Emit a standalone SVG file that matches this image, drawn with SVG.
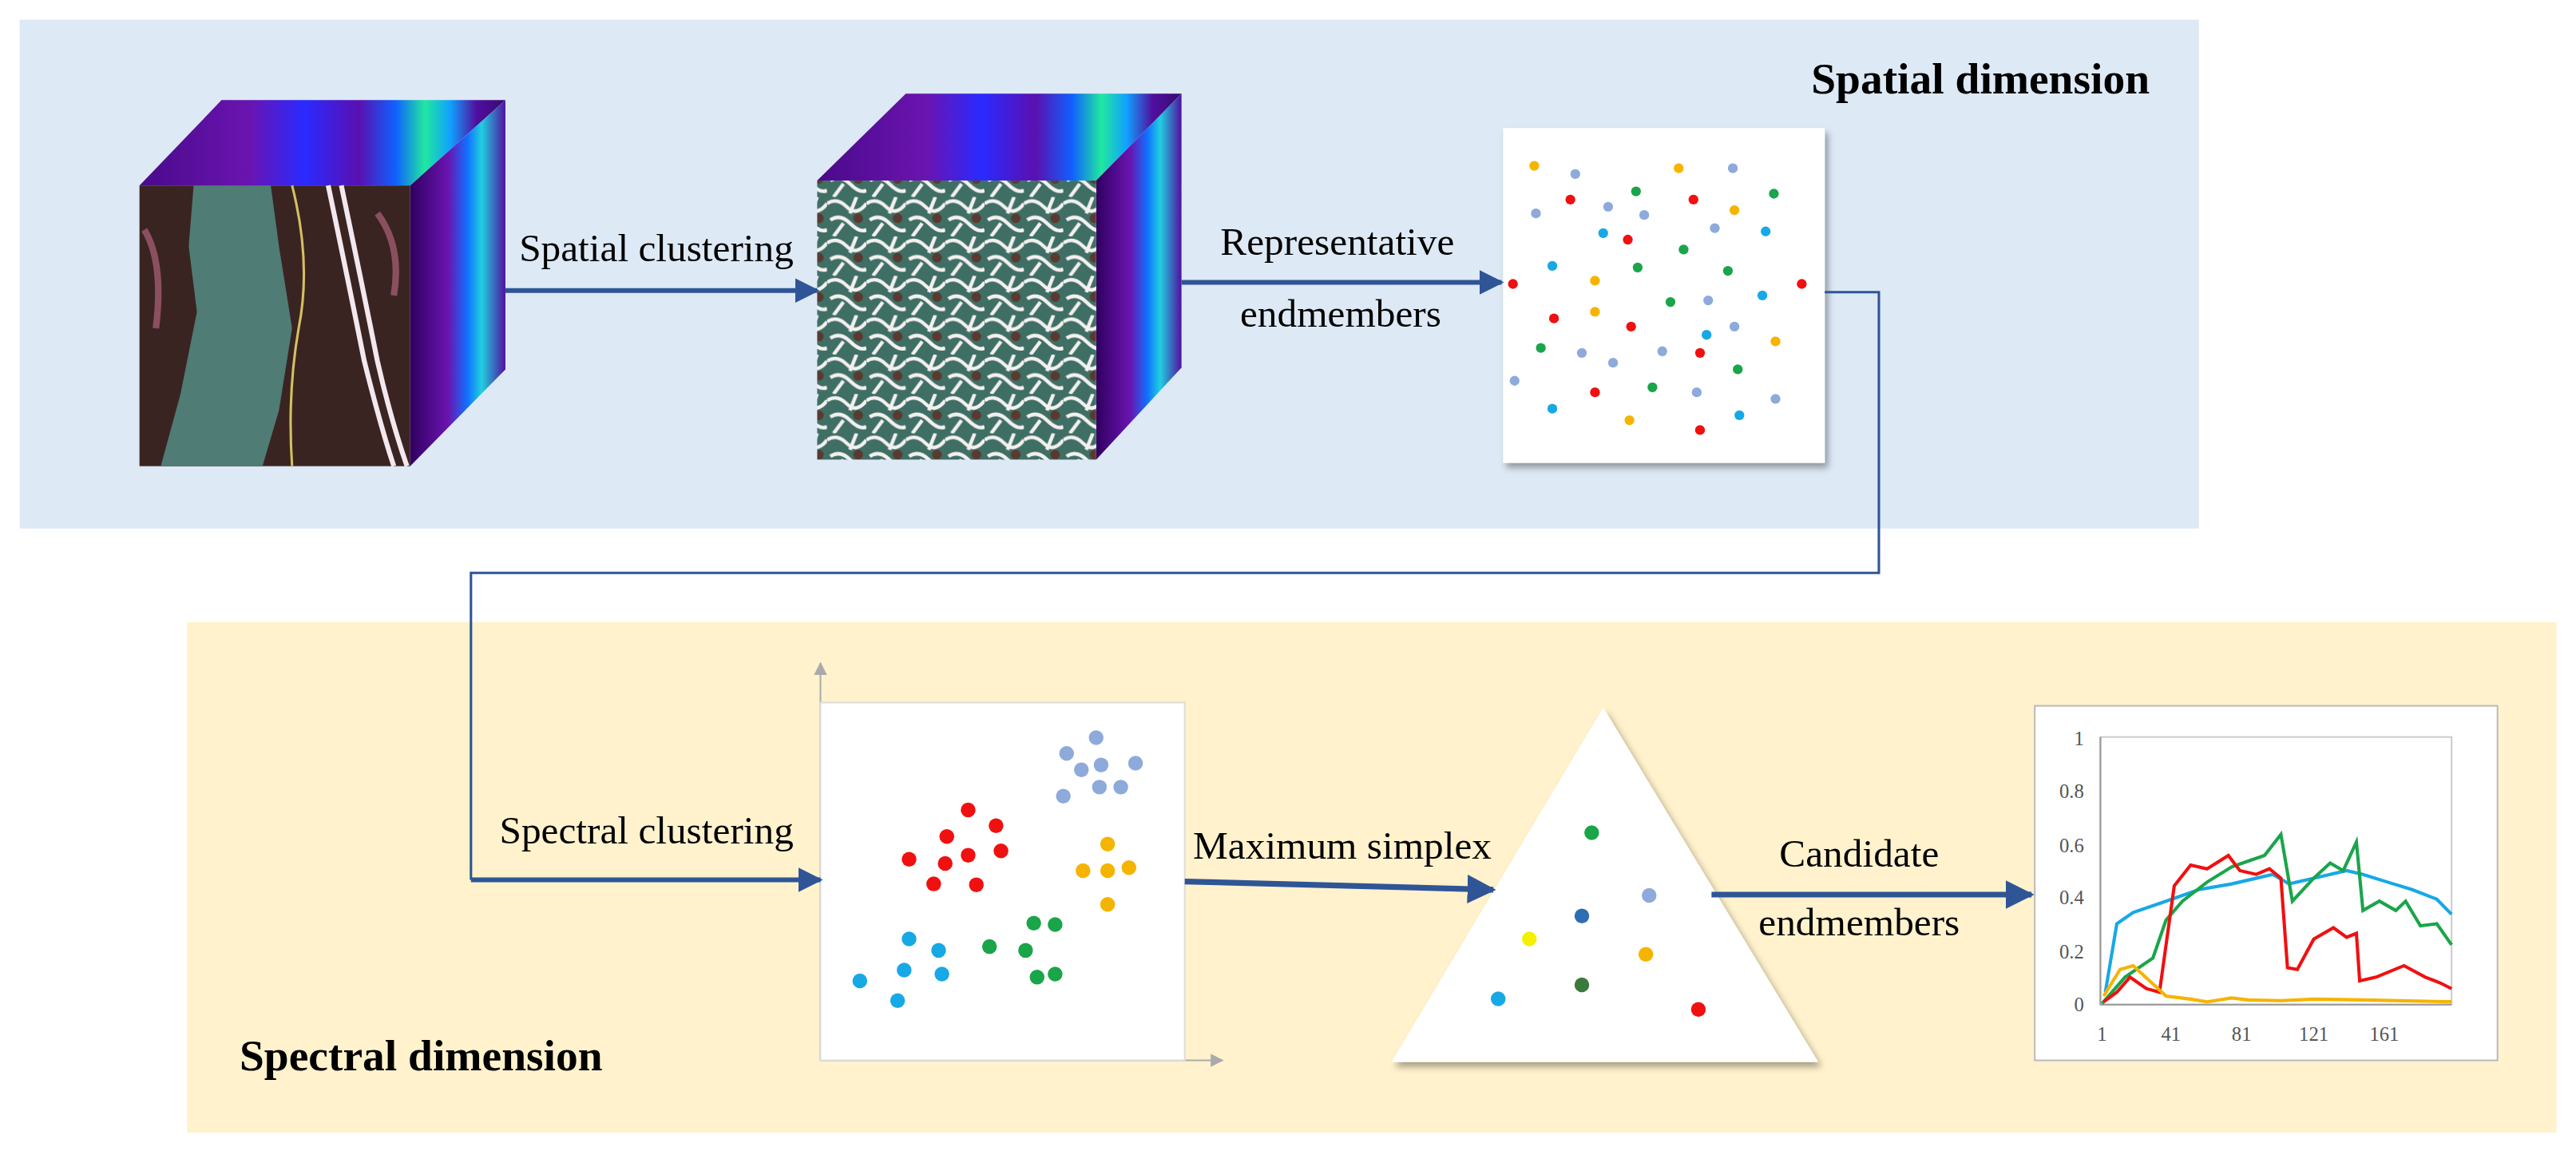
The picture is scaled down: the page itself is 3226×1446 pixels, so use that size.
<svg xmlns="http://www.w3.org/2000/svg" width="3226" height="1446" viewBox="0 0 3226 1446">
<style>
.lbl{font-family:"Liberation Serif","Times New Roman",serif;font-size:24px;fill:#000}
.ttl{font-family:"Liberation Serif","Times New Roman",serif;font-size:27px;font-weight:bold;fill:#000}
.tk{font-family:"Liberation Serif","Times New Roman",serif;font-size:12px;fill:#555}
.conn{stroke:#2f5597;fill:none}
.r{fill:#f01010}.g{fill:#1aa54a}.o{fill:#f5b400}.lb{fill:#8eaadb}.b{fill:#17a8e6}
</style>
<defs>
<marker id="ah" viewBox="0 0 10 10" refX="9" refY="5" markerWidth="5" markerHeight="5.5" orient="auto" markerUnits="strokeWidth"><path d="M0,0 L10,5 L0,10 z" fill="#2f5597"/></marker>
<marker id="gah" viewBox="0 0 10 10" refX="9" refY="5" markerWidth="8" markerHeight="8" orient="auto" markerUnits="strokeWidth"><path d="M0,0 L10,5 L0,10 z" fill="#aaa"/></marker>
<linearGradient id="topg" x1="0" y1="0" x2="1" y2="0">
<stop offset="0" stop-color="#4a0a8a"/><stop offset="0.3" stop-color="#6a14b0"/><stop offset="0.45" stop-color="#2a2aff"/><stop offset="0.6" stop-color="#5a10b0"/><stop offset="0.7" stop-color="#1060ff"/><stop offset="0.78" stop-color="#20e8a0"/><stop offset="0.85" stop-color="#10a0ff"/><stop offset="0.92" stop-color="#5010a0"/><stop offset="1" stop-color="#3a0870"/>
</linearGradient>
<linearGradient id="sideg" x1="0" y1="0" x2="1" y2="0">
<stop offset="0" stop-color="#300060"/><stop offset="0.4" stop-color="#6a14b0"/><stop offset="0.6" stop-color="#1070ff"/><stop offset="0.75" stop-color="#20d0e0"/><stop offset="1" stop-color="#5010a0"/>
</linearGradient>
<pattern id="seg" width="24" height="24" patternUnits="userSpaceOnUse">
<rect width="24" height="24" fill="#3f6f64"/>
<path d="M0,4 Q6,0 12,6 T24,4 M2,14 Q8,10 14,16 T24,20 M4,24 L10,16 M18,0 L14,10" stroke="#f4f0f0" stroke-width="2.2" fill="none"/>
<circle cx="19" cy="13" r="3" fill="#5a3a30"/>
</pattern>
<filter id="sh" x="-10%" y="-10%" width="130%" height="130%"><feDropShadow dx="2" dy="3" stdDeviation="2" flood-color="#000" flood-opacity="0.35"/></filter>
</defs>
<g transform="scale(2.055)">
<rect id="spatial-panel" x="12" y="12" width="1328" height="310" fill="#dde9f5"/>
<rect id="spectral-panel" x="114" y="379" width="1444" height="311" fill="#fff2cc"/>
<text class="ttl" x="1310" y="57" text-anchor="end">Spatial dimension</text>
<text class="ttl" x="146" y="652">Spectral dimension</text>

<g id="cube1">
<polygon points="85,113 250,113 308,61 135,61" fill="url(#topg)"/>
<polygon points="250,113 308,61 308,225 250,284" fill="url(#sideg)"/>
<rect x="85" y="113" width="165" height="171" fill="#3a2422"/>
<path d="M118,113 L165,113 L170,150 L178,200 L170,250 L160,284 L98,284 L110,240 L120,190 L115,150 Z" fill="#4f7c74"/>
<path d="M178,113 Q190,160 182,200 Q175,240 178,284" stroke="#d4c060" stroke-width="1.5" fill="none"/>
<path d="M200,113 Q212,170 222,220 Q232,260 240,284 M208,113 Q220,170 230,220 Q238,255 248,284" stroke="#f2e8ee" stroke-width="3" fill="none"/>
<path d="M88,140 Q100,160 95,200 M230,130 Q245,150 240,180" stroke="#8a5060" stroke-width="4" fill="none"/>
</g>
<g id="cube2">
<polygon points="498,110 668,110 720,57 552,57" fill="url(#topg)"/>
<polygon points="668,110 720,57 720,224 668,280" fill="url(#sideg)"/>
<rect x="498" y="110" width="170" height="170" fill="url(#seg)"/>
</g>
<g id="endmember-map">
<rect x="916" y="78" width="196" height="204" fill="#fff" filter="url(#sh)"/>
<circle class="o" cx="935" cy="101" r="3"/><circle class="lb" cx="960" cy="106" r="3"/><circle class="o" cx="1023" cy="102.5" r="3"/><circle class="lb" cx="1056" cy="102.5" r="3"/>
<circle class="g" cx="997" cy="116.6" r="3"/><circle class="r" cx="957" cy="121.6" r="3"/><circle class="r" cx="1032" cy="121.6" r="3"/><circle class="g" cx="1081" cy="118" r="3"/>
<circle class="lb" cx="936" cy="130" r="3"/><circle class="lb" cx="980" cy="126" r="3"/><circle class="lb" cx="1002" cy="131" r="3"/><circle class="o" cx="1057" cy="128" r="3"/>
<circle class="b" cx="977" cy="142" r="3"/><circle class="r" cx="992" cy="146" r="3"/><circle class="lb" cx="1045" cy="139" r="3"/><circle class="b" cx="1076" cy="141" r="3"/>
<circle class="g" cx="1026" cy="152" r="3"/><circle class="b" cx="946" cy="162" r="3"/><circle class="g" cx="998" cy="163" r="3"/><circle class="g" cx="1053" cy="165" r="3"/>
<circle class="o" cx="972" cy="171" r="3"/><circle class="r" cx="922" cy="173" r="3"/><circle class="r" cx="1098" cy="173" r="3"/><circle class="g" cx="1018" cy="184" r="3"/>
<circle class="lb" cx="1041" cy="183" r="3"/><circle class="b" cx="1074" cy="180" r="3"/><circle class="r" cx="947" cy="194" r="3"/><circle class="o" cx="972" cy="190" r="3"/>
<circle class="r" cx="994" cy="199" r="3"/><circle class="lb" cx="1057" cy="199" r="3"/><circle class="b" cx="1040" cy="204" r="3"/><circle class="o" cx="1082" cy="208" r="3"/>
<circle class="g" cx="939" cy="212" r="3"/><circle class="lb" cx="964" cy="215" r="3"/><circle class="lb" cx="1013" cy="214" r="3"/><circle class="r" cx="1036" cy="215" r="3"/>
<circle class="lb" cx="983" cy="221" r="3"/><circle class="g" cx="1059" cy="225" r="3"/><circle class="lb" cx="923" cy="232" r="3"/><circle class="r" cx="972" cy="239" r="3"/>
<circle class="g" cx="1007" cy="236" r="3"/><circle class="lb" cx="1034" cy="239" r="3"/><circle class="lb" cx="1082" cy="243" r="3"/><circle class="b" cx="946" cy="249" r="3"/>
<circle class="o" cx="993" cy="256" r="3"/><circle class="b" cx="1060" cy="253" r="3"/><circle class="r" cx="1036" cy="262" r="3"/>
</g>
<g id="cluster-plot">
<line x1="500" y1="646" x2="500" y2="404" stroke="#aaa" stroke-width="1" marker-end="url(#gah)"/>
<line x1="500" y1="646" x2="745" y2="646" stroke="#aaa" stroke-width="1" marker-end="url(#gah)"/>
<rect x="500" y="428" width="222" height="218" fill="#fff" stroke="#ddd" stroke-width="1"/>
<g>
<circle class="lb" cx="668" cy="449.4" r="4.5"/><circle class="lb" cx="650" cy="459" r="4.5"/><circle class="lb" cx="671" cy="466" r="4.5"/><circle class="lb" cx="692" cy="465" r="4.5"/><circle class="lb" cx="659" cy="469" r="4.5"/><circle class="lb" cx="670" cy="479.5" r="4.5"/><circle class="lb" cx="683" cy="479.5" r="4.5"/><circle class="lb" cx="648" cy="485" r="4.5"/>
<circle class="r" cx="590" cy="493.4" r="4.5"/><circle class="r" cx="607" cy="503" r="4.5"/><circle class="r" cx="577" cy="509.6" r="4.5"/><circle class="r" cx="554" cy="523.5" r="4.5"/><circle class="r" cx="576" cy="526" r="4.5"/><circle class="r" cx="590" cy="521" r="4.5"/><circle class="r" cx="610" cy="518.4" r="4.5"/><circle class="r" cx="569" cy="538.5" r="4.5"/><circle class="r" cx="595" cy="539" r="4.5"/>
<circle class="o" cx="675" cy="514.2" r="4.5"/><circle class="o" cx="660" cy="530.4" r="4.5"/><circle class="o" cx="675" cy="530.4" r="4.5"/><circle class="o" cx="688" cy="528.6" r="4.5"/><circle class="o" cx="675" cy="551" r="4.5"/>
<circle class="g" cx="630" cy="562.4" r="4.5"/><circle class="g" cx="643" cy="563.3" r="4.5"/><circle class="g" cx="603" cy="576.7" r="4.5"/><circle class="g" cx="625" cy="579" r="4.5"/><circle class="g" cx="632" cy="595.3" r="4.5"/><circle class="g" cx="643" cy="593.4" r="4.5"/>
<circle class="b" cx="554" cy="572" r="4.5"/><circle class="b" cx="572" cy="579" r="4.5"/><circle class="b" cx="551" cy="591" r="4.5"/><circle class="b" cx="574" cy="593.4" r="4.5"/><circle class="b" cx="524" cy="597.6" r="4.5"/><circle class="b" cx="547" cy="609.6" r="4.5"/>
</g>
</g>
<g id="simplex">
<polygon points="977,431 1108,647 848,647" fill="#fff" filter="url(#sh)"/>
<circle class="g" cx="970" cy="507.3" r="4.5"/><circle class="lb" cx="1005" cy="545.5" r="4.5"/><circle cx="964" cy="558" r="4.5" fill="#2e6db4"/><circle cx="932" cy="572" r="4.5" fill="#f5f000"/><circle class="o" cx="1003" cy="581.4" r="4.5"/><circle cx="964" cy="600" r="4.5" fill="#3a7a3a"/><circle class="b" cx="913" cy="608.5" r="4.5"/><circle class="r" cx="1035" cy="615" r="4.5"/>
</g>
<g id="spectra-chart">
<rect x="1240" y="430" width="282" height="216" fill="#fff" stroke="#bbb" stroke-width="1"/>
<rect x="1280" y="449" width="214" height="163" fill="none" stroke="#ccc" stroke-width="1"/>
<line x1="1280" y1="449" x2="1280" y2="612" stroke="#999" stroke-width="1"/>
<line x1="1280" y1="612" x2="1494" y2="612" stroke="#999" stroke-width="1"/>
<g class="tk" text-anchor="end">
<text x="1270" y="454">1</text><text x="1270" y="486">0.8</text><text x="1270" y="519">0.6</text><text x="1270" y="551">0.4</text><text x="1270" y="584">0.2</text><text x="1270" y="616">0</text>
</g>
<g class="tk" text-anchor="middle">
<text x="1281" y="634">1</text><text x="1323" y="634">41</text><text x="1366" y="634">81</text><text x="1410" y="634">121</text><text x="1453" y="634">161</text>
</g>
<polyline fill="none" stroke="#17a8e6" stroke-width="2" points="1283,604.5 1290,562.8 1300,555.9 1320,549 1340,542 1360,538.5 1385,532.7 1395,538.5 1410,535 1430,530.4 1440,532.7 1455,537.4 1470,542 1485,547.8 1494,557"/>
<polyline fill="none" stroke="#1aa54a" stroke-width="2" points="1281,611.4 1295,595.3 1312,583.7 1320,560.5 1330,549 1345,537.4 1360,528.1 1380,521.2 1390,508.4 1397,549 1410,535 1420,525.8 1428,530.4 1436,513 1440,554.7 1450,549 1460,554.7 1466,549 1475,564 1485,562.8 1494,575.6"/>
<polyline fill="none" stroke="#f01010" stroke-width="2" points="1282,610.3 1290,604.5 1298,595.3 1308,602.3 1316,604.5 1325,539.7 1335,527 1345,529.3 1358,521.2 1365,530.4 1375,532.7 1383,529.3 1390,535 1394,589.5 1400,590.6 1410,572.1 1422,565.2 1430,571 1436,568.6 1438,597.6 1448,595.3 1465,588.3 1478,595.3 1487,598.8 1494,602.3"/>
<polyline fill="none" stroke="#f5b400" stroke-width="2" points="1282,606.8 1292,590.6 1300,588.3 1310,597.6 1320,606.8 1335,608.7 1345,610.3 1360,608 1370,609.2 1390,609.6 1410,608.7 1440,609.2 1494,610.3"/>
</g>
<g id="connectors">
<line class="conn" x1="308" y1="177" x2="498" y2="177" stroke-width="3" marker-end="url(#ah)"/>
<line class="conn" x1="720" y1="172" x2="915" y2="172" stroke-width="3" marker-end="url(#ah)"/>
<polyline class="conn" points="1112,178 1145,178 1145,349 287,349 287,536" stroke-width="1.5"/>
<line class="conn" x1="287" y1="536" x2="500" y2="536" stroke-width="3" marker-end="url(#ah)"/>
<line class="conn" x1="722" y1="537" x2="910" y2="542" stroke-width="3.5" marker-end="url(#ah)"/>
<line class="conn" x1="1043" y1="545" x2="1238" y2="545" stroke-width="3.5" marker-end="url(#ah)"/>
</g>
<g id="labels">
<text class="lbl" x="400" y="159" text-anchor="middle">Spatial clustering</text>
<text class="lbl" x="815" y="155" text-anchor="middle">Representative</text>
<text class="lbl" x="817" y="199" text-anchor="middle">endmembers</text>
<text class="lbl" x="394" y="514" text-anchor="middle">Spectral clustering</text>
<text class="lbl" x="818" y="523" text-anchor="middle">Maximum simplex</text>
<text class="lbl" x="1133" y="528" text-anchor="middle">Candidate</text>
<text class="lbl" x="1133" y="570" text-anchor="middle">endmembers</text>
</g>
</g>
</svg>
